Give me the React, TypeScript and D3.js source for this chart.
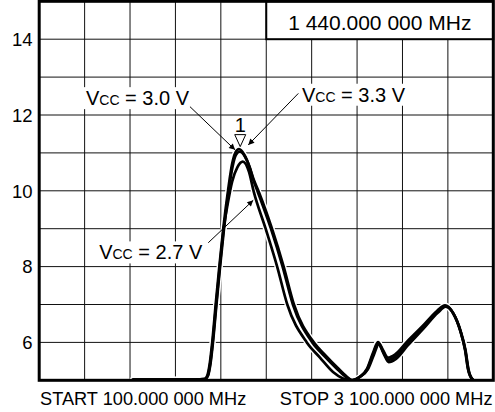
import React from "react";
import * as d3 from "d3";

// ---- data (frequency in MHz, level in dB) ----
const FREQ_27 = [100, 690, 720, 1131, 1193, 1213, 1230, 1246, 1269, 1293, 1319, 1345, 1375, 1409, 1445, 1486, 1516, 1596, 1672, 1739, 1868, 1955, 2041, 2107, 2153, 2188, 2221, 2270, 2310, 2343, 2376, 2409, 2455, 2535, 2640, 2733, 2785, 2838, 2884, 2917, 2937, 2962, 2990, 3100];
const LEVEL_27 = [4.85, 4.85, 5.02, 5.02, 5.03, 5.12, 5.45, 6.0, 7.0, 8.0, 9.0, 9.65, 10.25, 10.62, 10.77, 10.5, 10.0, 9.0, 8.0, 7.0, 6.0, 5.6, 5.22, 5.05, 5.0, 5.02, 5.1, 5.28, 5.66, 5.95, 5.7, 5.48, 5.56, 5.92, 6.37, 6.78, 6.94, 6.75, 6.3, 5.78, 5.27, 5.03, 4.97, 4.97];

const FREQ_30 = [100, 690, 720, 1131, 1195, 1215, 1232, 1248, 1271, 1295, 1321, 1352, 1378, 1400, 1425, 1460, 1490, 1515, 1546, 1631, 1708, 1776, 1904, 1984, 2063, 2125, 2165, 2188, 2221, 2267, 2307, 2340, 2373, 2406, 2452, 2532, 2637, 2730, 2783, 2836, 2882, 2915, 2935, 2961, 2990, 3100];
const LEVEL_30 = [4.85, 4.85, 5.02, 5.02, 5.03, 5.12, 5.45, 6.0, 7.0, 8.0, 9.0, 10.0, 10.65, 10.95, 11.03, 10.9, 10.62, 10.28, 9.95, 9.0, 8.0, 7.0, 6.0, 5.64, 5.32, 5.09, 5.0, 5.02, 5.1, 5.29, 5.7, 5.98, 5.75, 5.54, 5.62, 5.97, 6.4, 6.81, 6.96, 6.76, 6.31, 5.79, 5.28, 5.03, 4.97, 4.97];

const FREQ_33 = [100, 690, 720, 1131, 1190, 1210, 1227, 1243, 1266, 1290, 1316, 1349, 1375, 1398, 1420, 1455, 1488, 1517, 1553, 1638, 1715, 1783, 1914, 1993, 2071, 2131, 2170, 2190, 2221, 2265, 2305, 2338, 2371, 2404, 2450, 2530, 2635, 2728, 2781, 2834, 2880, 2913, 2933, 2959, 2990, 3100];
const LEVEL_33 = [4.85, 4.85, 5.02, 5.02, 5.03, 5.12, 5.45, 6.0, 7.0, 8.0, 9.0, 10.05, 10.72, 11.02, 11.1, 10.95, 10.65, 10.3, 9.95, 9.0, 8.0, 7.0, 6.0, 5.65, 5.33, 5.1, 5.0, 5.02, 5.1, 5.3, 5.72, 6.01, 5.8, 5.6, 5.68, 6.02, 6.44, 6.83, 6.98, 6.78, 6.33, 5.81, 5.29, 5.04, 4.97, 4.97];

const Y_TICKS = [6, 8, 10, 12, 14];
const START_LABEL = "START 100.000 000 MHz";
const STOP_LABEL = "STOP 3 100.000 000 MHz";
const MARKER_LABEL = "1 440.000 000 MHz";
const MARKER_FREQ = 1440;
const MARKER_LEVEL = 11.1;

// annotation anchors in data space: [labelFreq, labelLevel, fromFreq, fromLevel, toFreq, toLevel]
const LABEL_TEXTS = ["3.0 V", "3.3 V", "2.7 V"];
const LABEL_POS = [
  [409, 12.26, 1096, 12.22, 1394, 11.08],
  [1836, 12.35, 1812, 12.57, 1481, 11.21],
  [496, 8.19, 1217, 8.63, 1514, 9.75],
];

const W = 495;
const H = 412;
const FONT = "'Liberation Sans', Arial, Helvetica, sans-serif";

export default function App() {
  const left = 39.2, right = 493.3, top = 1.3, bottom = 380.3;
  const x = d3.scaleLinear().domain([100, 3100]).range([left, right]);
  const y = d3.scaleLinear().domain([5, 15]).range([bottom, top]);

  const series = [
    { f: FREQ_27, v: LEVEL_27 },
    { f: FREQ_30, v: LEVEL_30 },
    { f: FREQ_33, v: LEVEL_33 },
  ];
  const line = d3
    .line<[number, number]>()
    .x((d) => x(d[0]))
    .y((d) => y(d[1]))
    .curve(d3.curveMonotoneX);
  const paths = series.map((s) => line(s.f.map((f, i) => [f, s.v[i]] as [number, number])) || "");

  const vGrid = d3.range(100, 3101, 300);
  const hGrid = d3.range(6, 15, 1);

  const mx = x(MARKER_FREQ) - 1.8;
  const my = y(MARKER_LEVEL) - 2.5;

  const labelBg = [
    { w: 108, h: 22 },
    { w: 108, h: 22 },
    { w: 110, h: 22 },
  ];

  return (
    <svg
      width={W}
      height={H}
      viewBox={`0 0 ${W} ${H}`}
      style={{ position: "absolute", left: 0, top: 0, display: "block", background: "#fff" }}
      fontFamily={FONT}
    >
      <defs>
        <clipPath id="plotclip">
          <rect x={left} y={top} width={right - left} height={bottom - top} />
        </clipPath>
        <marker
          id="ah"
          viewBox="0 0 10 10"
          refX="10"
          refY="5"
          markerWidth="9"
          markerHeight="6"
          markerUnits="userSpaceOnUse"
          orient="auto"
        >
          <path d="M0,0 L10,5 L0,10 z" fill="#000" />
        </marker>
      </defs>
      <rect x={0} y={0} width={W} height={H} fill="#fff" />

      {/* grid */}
      <g stroke="#111" strokeWidth={1}>
        {vGrid.map((f) => (
          <line key={"v" + f} x1={x(f)} x2={x(f)} y1={top} y2={bottom} />
        ))}
        {hGrid.map((v) => (
          <line key={"h" + v} x1={left} x2={right} y1={y(v)} y2={y(v)} />
        ))}
      </g>

      {/* curves */}
      <g clipPath="url(#plotclip)" fill="none" strokeLinejoin="round" strokeLinecap="round">
        {paths.map((d, i) => (
          <path key={"halo" + i} d={d} stroke="#fff" strokeWidth={5.5} />
        ))}
        {paths.map((d, i) => (
          <path key={"c" + i} d={d} stroke="#000" strokeWidth={2.7} />
        ))}
      </g>

      {/* marker readout box */}
      <rect
        x={x(1600)}
        y={top}
        width={right - x(1600)}
        height={y(14) - top}
        fill="#fff"
        stroke="#000"
        strokeWidth={2}
      />
      <text x={(x(1600) + right) / 2} y={30} textAnchor="middle" fontSize={21} fill="#000">
        {MARKER_LABEL}
      </text>

      {/* Vcc labels */}
      {LABEL_POS.map((p, i) => {
        const lx = x(p[0]);
        const ly = y(p[1]);
        return (
          <g key={"lab" + i}>
            <rect x={lx - 3} y={ly - 18} width={labelBg[i].w} height={labelBg[i].h} fill="#fff" />
            <line
              x1={x(p[2])}
              y1={y(p[3])}
              x2={x(p[4])}
              y2={y(p[5])}
              stroke="#000"
              strokeWidth={1}
              markerEnd="url(#ah)"
            />
            <text x={lx} y={ly} fontSize={20} fill="#000">
              V<tspan fontSize={14}>CC</tspan> = {LABEL_TEXTS[i]}
            </text>
          </g>
        );
      })}

      {/* marker triangle */}
      <path
        d={`M${mx - 5.5},${my - 12} L${mx + 5.5},${my - 12} L${mx},${my} Z`}
        fill="#fff"
        stroke="#000"
        strokeWidth={1}
      />
      <text x={mx} y={my - 15} textAnchor="middle" fontSize={20} fill="#000">
        1
      </text>

      {/* frame */}
      <rect x={left} y={top} width={right - left} height={bottom - top} fill="none" stroke="#000" strokeWidth={3} />

      {/* y tick labels */}
      {Y_TICKS.map((t) => (
        <text key={"yt" + t} x={32.5} y={y(t) + 6.7} textAnchor="end" fontSize={18.5} fill="#000">
          {t}
        </text>
      ))}

      {/* x labels */}
      <text x={40} y={405} fontSize={18.2} fill="#000">
        {START_LABEL}
      </text>
      <text x={492.5} y={405} textAnchor="end" fontSize={18.2} fill="#000">
        {STOP_LABEL}
      </text>
    </svg>
  );
}
